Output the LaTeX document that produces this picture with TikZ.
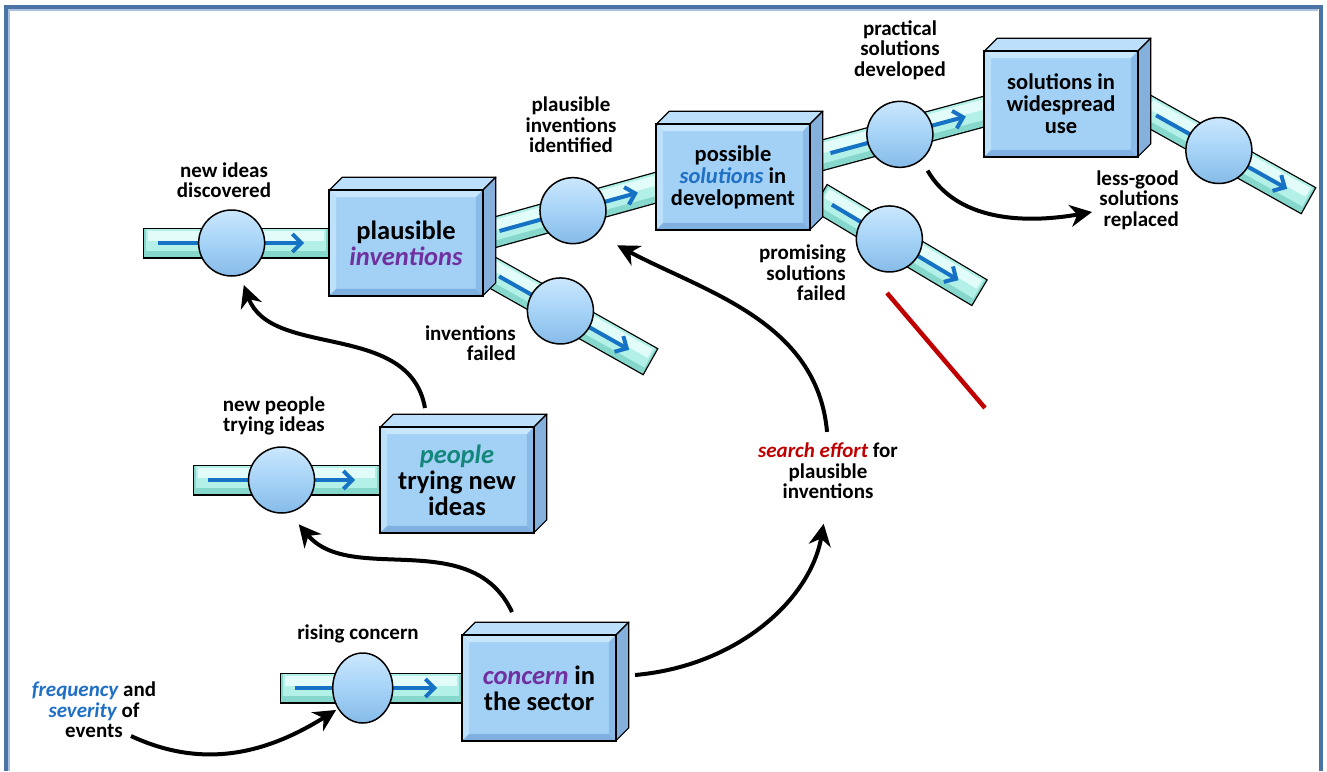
\documentclass[tikz,border=0pt]{standalone}
\usepackage{fontspec}
\setmainfont{Carlito}
\usetikzlibrary{arrows.meta,calc,shapes.geometric}
\pgfdeclarelayer{pipes}
\pgfsetlayers{pipes,main}

\definecolor{frame}{HTML}{4A74A6}
\definecolor{framelight}{HTML}{A9C2E0}
\definecolor{faceblue}{HTML}{A3D1F6}
\definecolor{facelight}{HTML}{C8E6FD}
\definecolor{facedark}{HTML}{7FB0E0}
\definecolor{topface}{HTML}{BCE0FB}
\definecolor{sideface}{HTML}{86B0DC}
\definecolor{pipedark}{HTML}{86D8CC}
\definecolor{pipemid}{HTML}{B3F0E7}
\definecolor{pipelight}{HTML}{E2FDF9}
\definecolor{flowblue}{HTML}{1672C4}
\definecolor{valvelight}{HTML}{CBE7FD}
\definecolor{valvemid}{HTML}{A6D3F7}
\definecolor{valvedark}{HTML}{86BBE8}
\definecolor{stockpurple}{HTML}{7030A0}
\definecolor{accentblue}{HTML}{1F6FC5}
\definecolor{peopleteal}{HTML}{14877C}
\definecolor{effortred}{HTML}{C00000}

\tikzset{
  stockbox/.style={rectangle, draw=black, line width=1.6pt, fill=faceblue,
    minimum width=152pt, minimum height=104pt, inner sep=0pt, align=center,
    font=\bfseries\fontsize{26.5}{26}\selectfont},
  smallstock/.style={stockbox, font=\bfseries\fontsize{22.5}{22}\selectfont},
  valve/.style={circle, draw=black, line width=1.5pt, minimum size=66pt, inner sep=0pt,
    top color=valvelight, bottom color=valvedark, middle color=valvemid},
  lbl/.style={align=center, inner sep=0pt, font=\bfseries\fontsize{21}{20.5}\selectfont},
  influence/.style={line width=4pt, -{Stealth[length=22pt,width=22pt,inset=7pt]}},
  flowline/.style={draw=flowblue, line width=4pt, -{Straight Barb[length=9pt,width=18pt]}},
}

% a stock: front face with bevel, plus top and side faces for depth
\newcommand{\drawstock}[4][stockbox]{%
  \node[#1] (#2) at (#3) {#4};
  \filldraw[topface, draw=black, line width=1.2pt, line join=round]
    (#2.north west) -- ++(13,-13) -- ($(#2.north east)+(13,-13)$) -- (#2.north east) -- cycle;
  \filldraw[sideface, draw=black, line width=1.2pt, line join=round]
    (#2.north east) -- ++(13,-13) -- ($(#2.south east)+(13,-13)$) -- (#2.south east) -- cycle;
  \fill[facelight] (#2.north west) -- (#2.north east) -- ($(#2.north east)+(-7,7)$) -- ($(#2.north west)+(7,7)$) -- cycle;
  \fill[facelight!70!faceblue] (#2.north west) -- ($(#2.north west)+(7,7)$) -- ($(#2.south west)+(7,-7)$) -- (#2.south west) -- cycle;
  \fill[facedark] (#2.south west) -- (#2.south east) -- ($(#2.south east)+(-7,-7)$) -- ($(#2.south west)+(7,-7)$) -- cycle;
  \fill[facedark!70!faceblue] (#2.north east) -- (#2.south east) -- ($(#2.south east)+(-7,-7)$) -- ($(#2.north east)+(-7,7)$) -- cycle;
  \draw[black, line width=1.6pt] (#2.north west) rectangle (#2.south east);
}

% a flow pipe between two points, drawn behind stocks and valves
\newcommand{\pipeline}[2]{%
  \begin{pgfonlayer}{pipes}
    \draw[line width=31pt, black] (#1) -- (#2);
    \draw[line width=28.4pt, pipedark, shorten <=1.3pt, shorten >=1.3pt] (#1) -- (#2);
    \draw[line width=22pt, pipemid, shorten <=3pt, shorten >=3pt] ($(#1)!3pt!90:(#2)$) -- ($(#2)!3pt!-90:(#1)$);
    \draw[line width=10pt, pipelight, shorten <=5pt, shorten >=5pt] ($(#1)!7pt!90:(#2)$) -- ($(#2)!7pt!-90:(#1)$);
    \draw[flowline, shorten <=15pt, shorten >=25pt] (#1) -- (#2);
  \end{pgfonlayer}}

\begin{document}
\begin{tikzpicture}[x=1pt, y=-1pt]
\useasboundingbox (0,0) rectangle (1327,771);

% frame
\draw[framelight, line width=1.5pt] (9,771) -- (9,10) -- (1318,10);
\draw[frame, line width=4pt] (6,771) -- (6,7) -- (1321,7) -- (1321,771);

% stocks
\drawstock{pi}{406,243}{plausible\\\textcolor{stockpurple}{\itshape inventions}}
\drawstock[smallstock]{pb}{733,177}{possible\\\textcolor{accentblue}{\itshape solutions} in\\development}
\drawstock[smallstock]{ws}{1061,104}{solutions in\\widespread\\use}
\drawstock{pp}{457,480}{\textcolor{peopleteal}{\itshape people}\\trying new\\ideas}
\drawstock{cs}{539,688}{\textcolor{stockpurple}{\itshape concern} in\\the sector}

% pipe ends
\coordinate (p1s) at (143,243);
\coordinate (p2s) at (193,480);
\coordinate (p3s) at (280,688);
\coordinate (p4s) at (485,235);
\coordinate (p4e) at (662,186);
\coordinate (p5s) at (486,269);
\coordinate (p5e) at (651,362);
\coordinate (p6s) at (816,157);
\coordinate (p6e) at (990,110);
\coordinate (p7s) at (1143,108);
\coordinate (p7e) at (1309,201);
\coordinate (p8s) at (819,197);
\coordinate (p8e) at (980,293);

\pipeline{p1s}{pi.west}
\pipeline{p2s}{pp.west}
\pipeline{p3s}{cs.west}
\pipeline{p4s}{p4e}
\pipeline{p5s}{p5e}
\pipeline{p6s}{p6e}
\pipeline{p7s}{p7e}
\pipeline{p8s}{p8e}

% valves
\node[valve] (v1) at ($(p1s)!0.476!(pi.west)$) {};
\node[valve] (v2) at ($(p2s)!0.473!(pp.west)$) {};
\node[valve, ellipse, minimum width=60pt, minimum height=70pt] (v3) at ($(p3s)!0.454!(cs.west)$) {};
\node[valve] (v4) at ($(p4s)!0.497!(p4e)$) {};
\node[valve] (v5) at ($(p5s)!0.451!(p5e)$) {};
\node[valve] (v6) at ($(p6s)!0.482!(p6e)$) {};
\node[valve] (v7) at ($(p7s)!0.457!(p7e)$) {};
\node[valve] (v8) at ($(p8s)!0.437!(p8e)$) {};

% flow and variable labels
\node[lbl] (l1) at (224,180) {new ideas\\discovered};
\node[lbl] (l2) at (571,125) {plausible\\inventions\\identified};
\node[lbl] (l3) at (900,50) {practical\\solutions\\developed};
\node[lbl, align=right, anchor=east] (l4) at (1179,200) {less-good\\solutions\\replaced};
\node[lbl, align=right, anchor=east] (l5) at (846,273) {promising\\solutions\\failed};
\node[lbl, align=right, anchor=east] (l6) at (516,343) {inventions\\failed};
\node[lbl] (l7) at (274,416) {new people\\trying ideas};
\node[lbl] (l8) at (358,634) {rising concern};
\node[lbl] (freq) at (94,710) {\textcolor{accentblue}{\itshape frequency} and\\\textcolor{accentblue}{\itshape severity} of\\events};
\node[lbl] (se) at (828,471) {\textcolor{effortred}{\itshape search effort} for\\plausible\\inventions};

% influences
\coordinate (evt) at (131,736);
\coordinate (cstop) at (512,612);
\coordinate (pptop) at (425,408);
\coordinate (csright) at (635,675);
\draw[influence, shorten >=2pt] (evt) to[out=-25, in=212] (v3.220);
\draw[influence, shorten >=15pt] (cstop) to[out=115, in=-50] (v2.-77);
\draw[influence, shorten >=10pt] (pptop) to[out=100, in=-70] (v1.-75);
\draw[influence, shorten >=25pt] (csright) to[out=5, in=-100] (se.south);
\draw[influence, shorten <=11pt, shorten >=23pt] (se.north) to[out=95, in=-28] (v4.-45);
\draw[influence, shorten <=12pt] (v6.-50) to[out=-60, in=190] ($(l4.west)+(-4,12)$);

% red stroke
\coordinate (r1) at (887,293);
\coordinate (r2) at (985,408);
\draw[effortred, line width=4.5pt] (r1) -- (r2);
\end{tikzpicture}
\end{document}
